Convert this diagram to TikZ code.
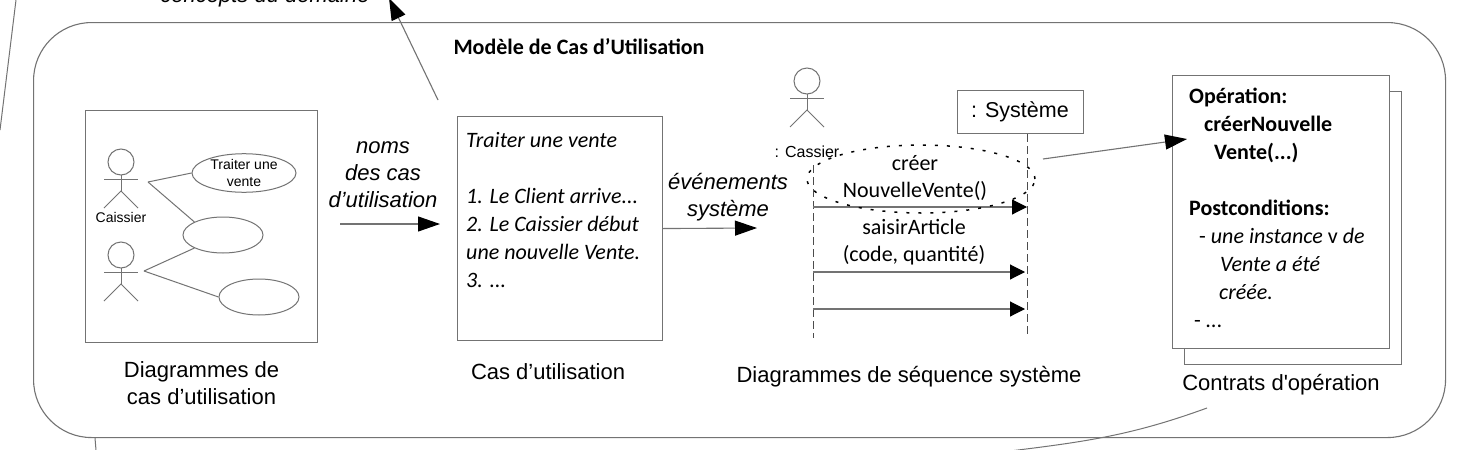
\documentclass[tikz,border=0pt]{standalone}
\usepackage{fontspec}
\setmainfont{Liberation Sans}
\newfontfamily\calfont{Carlito}
\newfontfamily\plainfont{Liberation Sans}
\usepackage{xcolor}
\usetikzlibrary{positioning,arrows.meta,shapes.geometric}
\definecolor{linegray}{gray}{0.45}
\tikzset{
  stickman/.pic={
    \draw[thinline] (0,-13) circle (13);
    \draw[thinline] (-17,4) -- (17,4);
    \draw[thinline] (0,0) -- (0,16);
    \draw[thinline] (-17,33) -- (0,16) -- (17,33);
  }
}
\begin{document}
\begin{tikzpicture}[
  x=1pt, y=-1pt,
  thinline/.style={draw=linegray, line width=1pt},
  panel/.style={draw=linegray, line width=1.1pt, fill=white, inner sep=0pt, anchor=north west},
  usecase/.style={ellipse, draw=linegray, line width=1pt, inner sep=0pt, align=center, font=\fontsize{14}{17}\selectfont},
  arr/.style={-{Triangle[length=22pt,width=15pt,color=black]}, draw=linegray, line width=1.1pt},
  msg/.style={-{Triangle[length=15pt,width=15pt,color=black]}, draw=linegray, line width=1.1pt},
  life/.style={draw=black!70, line width=0.8pt, dash pattern=on 8pt off 4pt},
  lab/.style={align=center, inner sep=0pt, font=\fontsize{22}{27}\selectfont},
  labit/.style={lab, font=\fontsize{22}{27}\selectfont\itshape},
  cal/.style={align=center, inner sep=0pt, font=\calfont\fontsize{22}{27}\selectfont},
  small/.style={inner sep=0pt, font=\fontsize{14}{17}\selectfont}
]
\useasboundingbox (0,0) rectangle (1484,450);

% outer model
\node[panel, rounded corners=58pt, minimum width=1412pt, minimum height=415pt] (model) at (33,22) {};
\node[cal, font=\calfont\bfseries\fontsize{22}{27}\selectfont] (modeltitle) at (579,47) {Modèle de Cas d’Utilisation};

% cropped things around the model
\coordinate (lefta) at (16,0);
\coordinate (leftb) at (0,130);
\draw[thinline] (lefta) -- (leftb);
\coordinate (lowa) at (95,438);
\coordinate (lowb) at (96,450);
\draw[thinline] (lowa) -- (lowb);
\coordinate (curvea) at (1207,408);
\coordinate (curveb) at (1010,451);
\draw[thinline] (curvea) to[out=200,in=7] (curveb);
\node[labit] (concepts) at (265,-3) {concepts du domaine};
\coordinate (upa) at (438,100);
\coordinate (upb) at (389,-2);
\draw[arr] (upa) -- (upb);

% use case diagram
\node[panel, minimum width=232pt, minimum height=232pt] (ucbox) at (85,110) {};
\pic at (121,175) {stickman};
\pic at (121,268) {stickman};
\node[small] (caissier) at (121,217) {Caissier};
\node[usecase, minimum width=104pt, minimum height=36pt] (uca) at (244,173) {Traiter une\\vente};
\node[usecase, minimum width=80pt, minimum height=36pt] (ucb) at (223,235) {};
\node[usecase, minimum width=80pt, minimum height=36pt] (ucc) at (259,297) {};
\coordinate (handa) at (148,182);
\coordinate (handb) at (144,271);
\draw[thinline] (handa) -- (uca.west);
\draw[thinline] (handa) -- (ucb.north west);
\draw[thinline] (handb) -- (ucb.south west);
\draw[thinline] (handb) -- (ucc.west);
\node[lab, below=18pt of ucbox] (uccap) {Diagrammes de\\cas d’utilisation};

% use case text
\node[labit] (noms) at (383,175) {noms\\des cas\\d’utilisation};
\coordinate (nomsa) at (340,224);
\coordinate (nomsb) at (440,224);
\draw[arr] (nomsa) -- (nomsb);
\node[panel, minimum width=205pt, minimum height=224pt] (casebox) at (457,116) {};
\node[cal, align=left, anchor=north west, font=\calfont\itshape\fontsize{22}{28}\selectfont] (casetext) at (466,132) {Traiter une vente\\[28pt]1. Le Client arrive...\\2. Le Caissier début\\une nouvelle Vente.\\3. ...};
\node[lab, below=22pt of casebox, xshift=-12pt] (casecap) {Cas d’utilisation};

% sequence diagram
\node[labit] (events) at (728,197) {événements\\système};
\coordinate (seqin) at (757,228);
\draw[arr] (casebox.east) -- (seqin);
\pic at (807,94) {stickman};
\node[small, fill=white, font=\fontsize{16}{17}\selectfont] (cassier) at (807,152) {: Cassier};
\node[panel, minimum width=126pt, minimum height=43pt] (system) at (957,90) {};
\node[lab, font=\fontsize{21.5}{24}\selectfont] (systemtext) at (1020,112) {: Système};
\coordinate (lifea) at (813,165);
\coordinate (lifeb) at (813,338);
\coordinate (lifec) at (1027,336);
\draw[life] (lifea) -- (lifeb);
\draw[life] (system.south -| lifec) -- (lifec);
\foreach \n/\y/\e in {a/207/1027,b/272/1025,c/309/1025} {
  \coordinate (from\n) at (813,\y);
  \coordinate (to\n) at (\e,\y);
  \draw[msg] (from\n) -- (to\n);
}
\node[ellipse, draw=black, line width=1.5pt, dash pattern=on 3pt off 9pt, inner sep=0pt, minimum width=228pt, minimum height=68pt] (focus) at (921,179) {};
\node[cal] (creer) at (915,178) {créer\\NouvelleVente()};
\node[cal] (saisir) at (914,242) {saisirArticle\\(code, quantité)};
\node[lab] (seqcap) at (909,377) {Diagrammes de séquence système};

% contracts
\node[panel, minimum width=217pt, minimum height=273pt] (contractb) at (1184,91) {};
\node[panel, minimum width=217pt, minimum height=273pt] (contract) at (1172,75) {};
\node[cal, align=left, anchor=north west, font=\calfont\fontsize{22}{28}\selectfont] (contracttext) at (1189,88) {\textbf{Opération:}\\
\hspace*{15pt}\textbf{créerNouvelle}\\
\hspace*{25pt}\textbf{Vente(...)}\\[28pt]
\textbf{Postconditions:}\\
\hspace*{10pt}- \textit{une instance} v \textit{de}\\
\hspace*{31pt}\textit{Vente a été}\\
\hspace*{30pt}\textit{créée.}\\
\hspace*{5pt}- \textit{...}};
\node[lab, font=\plainfont\fontsize{22}{27}\selectfont] (contractcap) at (1281,385) {Contrats d'opération};
\coordinate (sysout) at (1043,159);
\coordinate (sysin) at (1187,139);
\draw[arr] (sysout) -- (sysin);
\end{tikzpicture}
\end{document}
